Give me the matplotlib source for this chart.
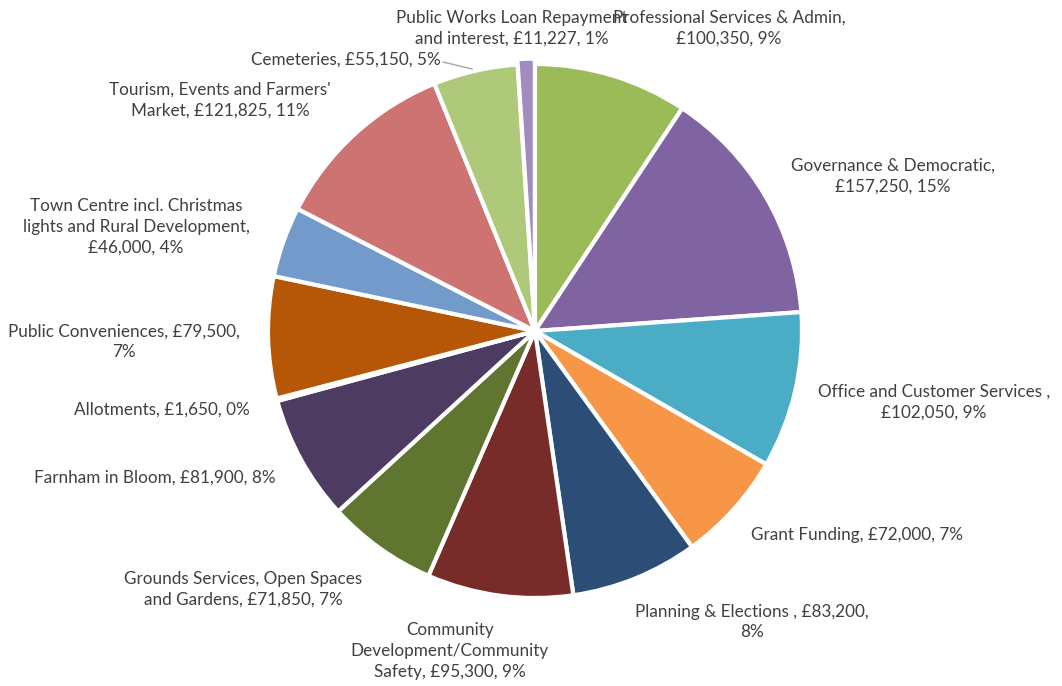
import numpy as np
import matplotlib.pyplot as plt

plt.rcParams['font.family'] = ['Lato', 'DejaVu Sans']

categories = ["Professional Services & Admin", "Governance & Democratic",
              "Office and Customer Services ", "Grant Funding", "Planning & Elections ",
              "Community Development/Community Safety", "Grounds Services, Open Spaces and Gardens",
              "Farnham in Bloom", "Allotments", "Public Conveniences",
              "Town Centre incl. Christmas lights and Rural Development",
              "Tourism, Events and Farmers' Market", "Cemeteries",
              "Public Works Loan Repayment and interest"]
values = [100350, 157250, 102050, 72000, 83200, 95300, 71850, 81900, 1650, 79500,
          46000, 121825, 55150, 11227]
colors = ['#9BBB59', '#8064A2', '#4BACC6', '#F79646', '#2C4D75', '#772C2A', '#5F7530',
          '#4D3B62', '#276A7C', '#B65708', '#729ACA', '#CD7371', '#AFC97A', '#A08CBE']

# label text broken into lines like the original, plus pixel position of the text centre
label_lines = [
    ["Professional Services & Admin,", "{v}, {p}"],
    ["Governance & Democratic,", "{v}, {p}"],
    ["Office and Customer Services ,", "{v}, {p}"],
    ["Grant Funding, {v}, {p}"],
    ["Planning & Elections , {v},", "{p}"],
    ["Community", "Development/Community", "Safety, {v}, {p}"],
    ["Grounds Services, Open Spaces", "and Gardens, {v}, {p}"],
    ["Farnham in Bloom, {v}, {p}"],
    ["Allotments, {v}, {p}"],
    ["Public Conveniences, {v},", "{p}"],
    ["Town Centre incl. Christmas", "lights and Rural Development,", "{v}, {p}"],
    ["Tourism, Events and Farmers'", "Market, {v}, {p}"],
    ["Cemeteries, {v}, {p}"],
    ["Public Works Loan Repayment", "and interest, {v}, {p}"],
]
label_pos = [(729, 28), (893, 176), (934, 402), (857, 535), (752, 622), (450, 651),
             (243, 589), (155, 478), (162, 410), (124, 342), (136, 227), (220, 100),
             (346, 60), (512, 28)]

W, H = 1062, 686
fig = plt.figure(figsize=(W / 100, H / 100), dpi=100)
cx, cy, r = 535, 331, 267
ax = fig.add_axes([(cx - r) / W, (H - cy - r) / H, 2 * r / W, 2 * r / H])

explode = [0] * len(values)
explode[-1] = 0.02
ax.pie(values, colors=colors, startangle=90, counterclock=False, explode=explode,
       wedgeprops=dict(edgecolor='white', linewidth=3))
ax.set_xlim(-1, 1)
ax.set_ylim(-1, 1)
ax.set_aspect('equal')
ax.axis('off')

total = sum(values)
for lines, v, (x, y) in zip(label_lines, values, label_pos):
    p = "{:.0f}%".format(100 * v / total)
    txt = "\n".join(l.format(v="£{:,}".format(v), p=p) for l in lines)
    fig.text(x / W, 1 - y / H, txt, ha='center', va='center', fontsize=12.3,
             color='#404040', linespacing=1.38)

# leader line for Cemeteries
fig.add_artist(plt.Line2D([443 / W, 472 / W], [1 - 62 / H, 1 - 69 / H], color='#A6A6A6', lw=1))

fig.savefig('out.png', dpi=100, facecolor='white')
